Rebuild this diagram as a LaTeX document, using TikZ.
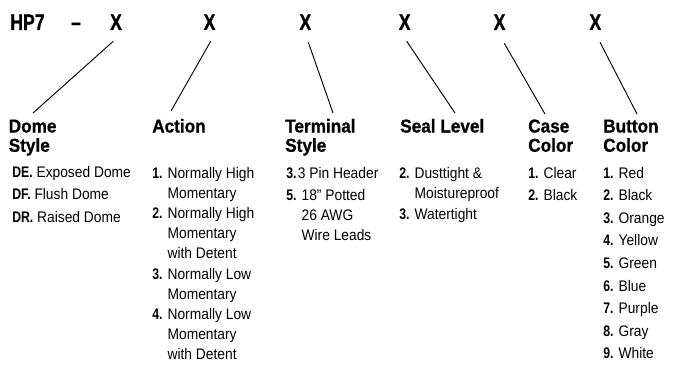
\documentclass[tikz,border=0pt]{standalone}
\usepackage{fontspec}
\setmainfont{Liberation Sans}[FakeStretch=0.9, BoldFeatures={FakeStretch=0.8}]
\newfontfamily\headfont{Liberation Sans}[FakeStretch=0.92, BoldFeatures={FakeBold=0.8}]
\newfontfamily\codefont{Liberation Sans}[FakeStretch=0.78, BoldFeatures={FakeBold=1}]
\usetikzlibrary{calc}
\newcommand\optlines[1]{\begin{tabular}[t]{@{}l@{}}#1\end{tabular}}

\begin{document}
\begin{tikzpicture}[x=0.75pt, y=-0.75pt,
  code/.style={anchor=base, inner sep=0pt, font=\codefont\bfseries\fontsize{17}{20}\selectfont},
  head/.style={anchor=base west, inner sep=0pt, font=\headfont\bfseries\fontsize{14}{14.3}\selectfont},
  choice/.style={anchor=base west, inner sep=0pt, font=\fontsize{11.5}{15.15}\selectfont},
  lead/.style={line width=0.7pt}
]
  \useasboundingbox (0,0) rectangle (675,371);

  \node[code, anchor=base west] (HP) at (10,30) {HP7};
  \node[code] (dash) at (76,30) {–};
  \foreach \i/\x in {1/116, 2/209.5, 3/305.3, 4/404.7, 5/499.5, 6/595.3}
    \node[code] (X\i) at (\x,30) {X};

  \node[head] (H1) at (8.5,132.5) {\optlines{Dome\\Style}};
  \node[head] (H2) at (152,132.5) {Action};
  \node[head] (H3) at (285,132.5) {\optlines{Terminal\\Style}};
  \node[head] (H4) at (400,132.5) {Seal Level};
  \node[head] (H5) at (528,132.5) {\optlines{Case\\Color}};
  \node[head] (H6) at (603,132.5) {\optlines{Button\\Color}};

  % dome style
  \foreach \c/\t [count=\i] in {DE/Exposed Dome, DF/Flush Dome, DR/Raised Dome}
    \node[choice] (D\i) at (12, 177+22.75*\i-22.75) {\textbf{\c.} \t};

  % action
  \node[choice] (A1) at (152,178) {\textbf{1.} \optlines{Normally High\\Momentary}};
  \node[choice] (A2) at (152,218.4) {\textbf{2.} \optlines{Normally High\\Momentary\\with Detent}};
  \node[choice] (A3) at (152,279) {\textbf{3.} \optlines{Normally Low\\Momentary}};
  \node[choice] (A4) at (152,319.4) {\textbf{4.} \optlines{Normally Low\\Momentary\\with Detent}};

  % terminal style
  \node[choice] (T1) at (286,178) {\textbf{3.}\kern1pt 3 Pin Header};
  \node[choice] (T2) at (286,200) {\textbf{5.} \optlines{18” Potted\\26 AWG\\Wire Leads}};

  % seal level
  \node[choice] (S1) at (399,178) {\textbf{2.} \optlines{Dusttight \&\\Moistureproof}};
  \node[choice] (S2) at (399,219) {\textbf{3.} Watertight};

  % case color
  \foreach \t [count=\i] in {Clear, Black}
    \node[choice] (C\i) at (528, 178+22.6*\i-22.6) {\textbf{\i.} \t};

  % button color
  \foreach \t [count=\i] in {Red, Black, Orange, Yellow, Green, Blue, Purple, Gray, White}
    \node[choice] (B\i) at (603, 178+22.6*\i-22.6) {\textbf{\i.} \t};

  \foreach \i/\dx/\dy/\ex/\ey in {1/-2.7/11/33/113, 2/1.2/11/171/111, 3/3/12/333/113,
                                4/2/11/455/113, 5/4.8/13/545/114, 6/4.7/12/637/114} {
    \coordinate (E\i) at (\ex,\ey);
    \draw[lead] ($(X\i.south)+(\dx,\dy)$) -- (E\i);
  }
\end{tikzpicture}
\end{document}
